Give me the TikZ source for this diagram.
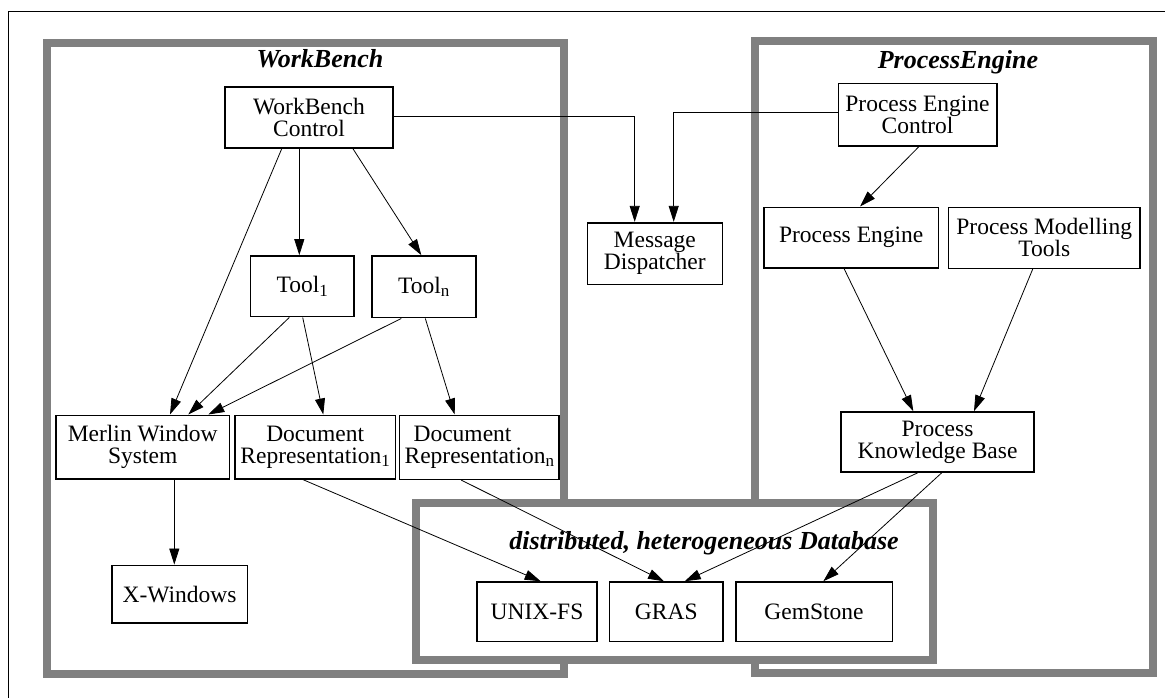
\documentclass[tikz,border=0pt]{standalone}
\usepackage{fontspec}
\setmainfont{Liberation Serif}
\usetikzlibrary{arrows.meta}
\definecolor{framegray}{RGB}{128,128,128}
% index set lowered after a name, as in Tool_1
\newcommand{\lowidx}[1]{\raisebox{-0.3ex}{\fontsize{17}{17}\selectfont #1}}
\tikzset{
  box/.style={draw=black, line width=1.6pt, fill=white, inner sep=0pt,
    align=center, font=\fontsize{23.5}{22}\selectfont},
  group/.style={draw=framegray, line width=8pt},
  grouptitle/.style={anchor=base, inner sep=0pt,
    font=\fontsize{26}{26}\selectfont\bfseries\itshape},
  link/.style={line width=0.8pt, -{Triangle[length=16pt,width=10pt]}},
}
\begin{document}
\begin{tikzpicture}[x=1pt,y=-1pt]
\useasboundingbox (0,0) rectangle (1165,697);
% page frame
\draw[line width=1.3pt] (8.3,705) -- (8.3,11.7) -- (1175,11.7);

% subsystem frames
\draw[group] (46.7,42.5) rectangle (563.8,674);
\draw[group] (755,41.3) rectangle (1153.3,673);
\draw[group, fill=white] (416,503) rectangle (933,659.5);

\node[grouptitle] (twb) at (320,67) {WorkBench};
\node[grouptitle] (tpe) at (958,68) {ProcessEngine};
\node[grouptitle] (tdb) at (704,549) {distributed, heterogeneous Database};

% WorkBench components
\node[box, minimum width=168pt, minimum height=61pt] (wbc) at (309,117.5) {WorkBench\\Control};
\node[box, minimum width=103.3pt, minimum height=60.7pt] (tool1) at (302.3,286.3) {Tool\lowidx{1}};
\node[box, minimum width=104pt, minimum height=61.7pt] (tooln) at (423.7,286.8) {Tool\lowidx{n}};
\node[box, minimum width=173.3pt, minimum height=63.4pt] (merlin) at (142.7,447) {Merlin Window\\System};
\node[box, minimum width=160.3pt, minimum height=63.4pt] (doc1) at (315.2,447) {Document\\Representation\lowidx{1}};
\node[box, minimum width=159.3pt, minimum height=64pt, align=left] (docn) at (479.3,447.3) {\hspace{9pt}Document\\Representation\lowidx{n}};
\node[box, minimum width=135.6pt, minimum height=57.7pt] (xwin) at (179.5,594.2) {X-Windows};

% message dispatcher
\node[box, minimum width=135pt, minimum height=61.6pt] (md) at (654.8,253.5) {Message\\Dispatcher};

% ProcessEngine components
\node[box, minimum width=158.4pt, minimum height=62.4pt] (pec) at (917.5,114.5) {Process Engine\\Control};
\node[box, minimum width=174.3pt, minimum height=60.4pt] (pe) at (851.2,237.5) {Process Engine};
\node[box, minimum width=191.7pt, minimum height=61pt] (pmt) at (1044.2,237.8) {Process Modelling\\Tools};
\node[box, minimum width=193pt, minimum height=60pt] (pkb) at (937.5,442) {Process\\Knowledge Base};

% database components
\node[box, minimum width=120pt, minimum height=59.3pt] (unix) at (537,611.7) {UNIX-FS};
\node[box, minimum width=113.3pt, minimum height=59.3pt] (gras) at (666.3,611.7) {GRAS};
\node[box, minimum width=156.6pt, minimum height=59.3pt] (gem) at (814,611.7) {GemStone};

% connections
\draw[link] ([xshift=-9.7pt]wbc.south) -- ([xshift=-3pt]tool1.north);
\draw[link] ([xshift=44pt]wbc.south) -- ([xshift=-2.4pt]tooln.north);
\draw[link] ([xshift=-27.3pt]wbc.south) -- ([xshift=27.3pt]merlin.north);
\draw[link] ([xshift=-13pt]tool1.south) -- ([xshift=45.6pt]merlin.north);
\draw[link] ([xshift=0.4pt]tool1.south) -- ([xshift=8.1pt]doc1.north);
\draw[link] ([xshift=-22.4pt]tooln.south) -- ([xshift=65.6pt]merlin.north);
\draw[link] ([xshift=1.6pt]tooln.south) -- ([xshift=-24.6pt]docn.north);
\draw[link] ([xshift=31.6pt]merlin.south) -- ([xshift=-5.2pt]xwin.north);
\draw[link] ([xshift=-12.5pt]doc1.south) -- ([xshift=3.7pt]unix.north);
\draw[link] ([xshift=-18pt]docn.south) -- ([xshift=-2.3pt]gras.north);
\draw[link] ([xshift=-19.8pt]pkb.south) -- ([xshift=18.4pt]gras.north);
\draw[link] ([xshift=4.2pt]pkb.south) -- ([xshift=9.3pt]gem.north);
\draw[link] ([xshift=-7.2pt]pe.south) -- ([xshift=-24.2pt]pkb.north);
\draw[link] ([xshift=-11.5pt]pmt.south) -- ([xshift=36.5pt]pkb.north);
\draw[link] ([xshift=1.5pt]pec.south) -- ([xshift=8.8pt]pe.north);
\draw[link] ([yshift=0.8pt]wbc.east) -| ([xshift=-20.1pt]md.north);
\draw[link] ([yshift=1.8pt]pec.west) -| ([xshift=18.9pt]md.north);
\end{tikzpicture}
\end{document}
